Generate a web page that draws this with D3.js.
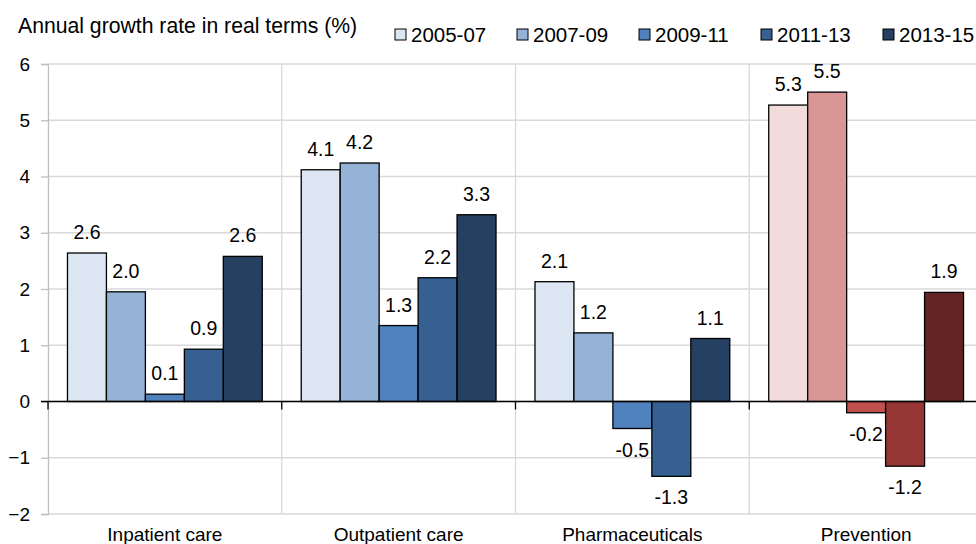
<!DOCTYPE html>
<html><head><meta charset="utf-8">
<script src="https://cdn.jsdelivr.net/npm/d3@7"></script>
<style>body{margin:0;background:#fff}svg{display:block}text{font-family:Arial,"Liberation Sans",sans-serif;fill:#000}</style>
</head><body>
<script>
const categories = ["Inpatient care","Outpatient care","Pharmaceuticals","Prevention"];
const series = ["2005-07","2007-09","2009-11","2011-13","2013-15"];
const values = [
  [2.64, 1.95, 0.13, 0.93, 2.58],
  [4.12, 4.24, 1.35, 2.20, 3.32],
  [2.13, 1.22, -0.48, -1.33, 1.12],
  [5.27, 5.50, -0.20, -1.15, 1.94]
];
const labels = [
  ["2.6","2.0","0.1","0.9","2.6"],
  ["4.1","4.2","1.3","2.2","3.3"],
  ["2.1","1.2","-0.5","-1.3","1.1"],
  ["5.3","5.5","-0.2","-1.2","1.9"]
];
const yTicks = [-2,-1,0,1,2,3,4,5,6];
const blues = ["#dce6f2","#95b3d7","#4f81bd","#366092","#254061"];
const reds = ["#f2dcdb","#da9694","#c0504d","#963634","#632523"];
const catPalette = [blues, blues, blues, reds];

const W = 976, H = 544;
const svg = d3.select("body").append("svg").attr("width", W).attr("height", H);
const mLeft = 48, mRight = 983, mTop = 64, mBottom = 514;
const y = d3.scaleLinear().domain([-2, 6]).range([mBottom, mTop]);
const x0 = d3.scaleBand().domain(categories).range([mLeft, mRight]).paddingInner(0).paddingOuter(0);
const x1 = d3.scaleBand().domain(series).range([0, x0.bandwidth()]).paddingInner(0).paddingOuter(0.5);

// gridlines
svg.append("g").selectAll("line").data(yTicks).join("line")
  .attr("x1", mLeft).attr("x2", W).attr("y1", d => y(d)).attr("y2", d => y(d))
  .attr("stroke", "#d9d9d9").attr("stroke-width", 1.3);
svg.append("g").selectAll("line").data(categories.slice(1)).join("line")
  .attr("x1", d => x0(d)).attr("x2", d => x0(d)).attr("y1", mTop).attr("y2", mBottom)
  .attr("stroke", "#d9d9d9").attr("stroke-width", 1.3);

// y axis
const yAxis = d3.axisLeft(y).tickValues(yTicks).tickSize(7).tickPadding(11).tickFormat(d3.format("d"));
const ya = svg.append("g").attr("transform", `translate(${mLeft},0)`).call(yAxis);
ya.select(".domain").attr("stroke", "#bfbfbf").attr("stroke-width", 1.3);
ya.selectAll(".tick line").attr("stroke", "#bfbfbf").attr("stroke-width", 1.3);
ya.selectAll(".tick text").attr("font-size", 19).attr("font-family", "Arial, 'Liberation Sans', sans-serif").attr("fill", "#000");

// bars
const g = svg.append("g");
categories.forEach((c, ci) => {
  const cg = g.append("g").attr("transform", `translate(${x0(c)},0)`);
  const rows = series.map((s, si) => ({s, si, v: values[ci][si], lab: labels[ci][si]}));
  cg.selectAll("rect").data(rows).join("rect")
    .attr("x", d => x1(d.s)).attr("width", x1.bandwidth())
    .attr("y", d => y(Math.max(0, d.v))).attr("height", d => Math.abs(y(d.v) - y(0)))
    .attr("fill", d => catPalette[ci][d.si]).attr("stroke", "#000").attr("stroke-width", 1.3);
  cg.selectAll("text").data(rows).join("text")
    .attr("x", d => x1(d.s) + x1.bandwidth() / 2)
    .attr("y", d => d.v >= 0 ? y(d.v) - 14 : y(d.v) + 28)
    .attr("text-anchor", "middle").attr("font-size", 19.5).text(d => d.lab);
});

// zero axis
svg.append("line").attr("x1", mLeft - 7).attr("x2", W).attr("y1", y(0)).attr("y2", y(0)).attr("stroke", "#000").attr("stroke-width", 1.3);
svg.append("g").selectAll("line").data(categories).join("line")
  .attr("x1", d => x0(d)).attr("x2", d => x0(d)).attr("y1", y(0)).attr("y2", y(0) + 8)
  .attr("stroke", "#000").attr("stroke-width", 1.3);

// category labels
svg.append("g").selectAll("text").data(categories).join("text")
  .attr("x", d => x0(d) + x0.bandwidth() / 2).attr("y", 541)
  .attr("text-anchor", "middle").attr("font-size", 19).text(d => d);

// title
svg.append("text").attr("x", 18).attr("y", 33).attr("font-size", 21.2).text("Annual growth rate in real terms (%)");

// legend
const lg = svg.append("g").selectAll("g").data(series).join("g")
  .attr("transform", (d, i) => `translate(${395 + i * 122},0)`);
lg.append("rect").attr("x", 0).attr("y", 29).attr("width", 11).attr("height", 11)
  .attr("fill", (d, i) => blues[i]).attr("stroke", "#000").attr("stroke-width", 1);
lg.append("text").attr("x", 16).attr("y", 42).attr("font-size", 20.5).text(d => d);
</script>
</body></html>
